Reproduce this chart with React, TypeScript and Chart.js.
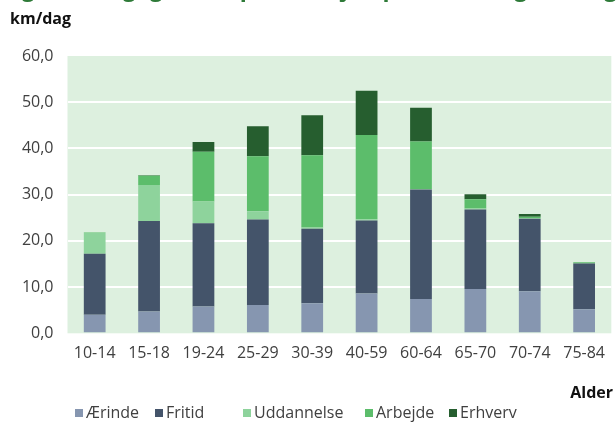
import React, { useEffect, useRef } from 'react';
import { Chart, registerables } from 'chart.js';

Chart.register(...registerables);

// ---- data ----
const categories = ['10-14', '15-18', '19-24', '25-29', '30-39', '40-59', '60-64', '65-70', '70-74', '75-84'];
const seriesLabels = ['Ærinde', 'Fritid', 'Uddannelse', 'Arbejde', 'Erhverv'];
const aerinde = [4.0, 4.7, 5.8, 6.1, 6.5, 8.6, 7.4, 9.6, 9.1, 5.2];
const fritid = [13.2, 19.6, 18.0, 18.5, 16.1, 15.8, 23.7, 17.2, 15.7, 9.9];
const uddannelse = [4.5, 7.8, 4.7, 1.8, 0.3, 0.3, 0.1, 0.2, 0.1, 0.0];
const arbejde = [0.1, 2.0, 10.8, 11.9, 15.6, 18.2, 10.3, 2.0, 0.3, 0.3];
const erhverv = [0.0, 0.1, 2.1, 6.5, 8.7, 9.6, 7.3, 1.1, 0.6, 0.0];
const yMin = 0;
const yMax = 60;
const yStep = 10;
const titleText = 'Figur 9, Dagligt transportarbejde på formål og aldersgrupper';
const yUnitText = 'km/dag';
const xTitleText = 'Alder';

// ---- styles ----
const FONT = '"Open Sans", sans-serif';
const colors = ['#8696B0', '#44546A', '#8ED39C', '#5CBD6B', '#265E2F'];
const plotBg = '#DDF0DF';
const textColor = '#404040';
const legendX = [75, 155, 243, 365, 449];

const decor = {
  id: 'decor',
  beforeDraw(chart: any) {
    const { ctx, chartArea: a } = chart;
    ctx.save();
    ctx.fillStyle = plotBg;
    ctx.fillRect(a.left, a.top, a.right - a.left, a.bottom - a.top);
    ctx.restore();
  },
  afterDraw(chart: any) {
    const ctx = chart.ctx;
    ctx.save();
    // cut-off title at the very top (only descenders visible)
    ctx.font = `bold 23px ${FONT}`;
    ctx.fillStyle = '#2E7A38';
    ctx.textAlign = 'left';
    ctx.textBaseline = 'alphabetic';
    ctx.fillText(titleText, 2, -4);
    // unit label
    ctx.font = `bold 16px ${FONT}`;
    ctx.fillStyle = '#111111';
    ctx.fillText(yUnitText, 10, 24);
    // x axis title
    ctx.textAlign = 'right';
    ctx.fillText(xTitleText, 613, 398);
    // legend
    ctx.font = `16px ${FONT}`;
    ctx.textAlign = 'left';
    ctx.textBaseline = 'middle';
    const y = 413;
    chart.data.datasets.forEach((ds: any, i: number) => {
      const x = legendX[i];
      ctx.fillStyle = ds.backgroundColor;
      ctx.fillRect(x, y - 4, 8, 8);
      ctx.fillStyle = textColor;
      ctx.fillText(ds.label, x + 11, y);
    });
    ctx.restore();
  },
};

export default function App() {
  const ref = useRef<HTMLCanvasElement | null>(null);

  useEffect(() => {
    if (!ref.current) return;
    const series = [aerinde, fritid, uddannelse, arbejde, erhverv];
    const chart = new Chart(ref.current, {
      type: 'bar',
      data: {
        labels: categories,
        datasets: series.map((d, i) => ({
          label: seriesLabels[i],
          data: d,
          backgroundColor: colors[i],
          borderWidth: 0,
          barPercentage: 0.4,
          categoryPercentage: 1.0,
        })),
      },
      options: {
        responsive: false,
        animation: false,
        devicePixelRatio: 1,
        layout: { padding: { top: 56, right: 0, bottom: 0, left: 0 } },
        plugins: {
          legend: { display: false },
          title: { display: false },
          tooltip: { enabled: false },
        },
        scales: {
          x: {
            stacked: true,
            grid: { display: false, drawTicks: false },
            border: { display: false },
            ticks: {
              color: textColor,
              font: { family: FONT, size: 16 },
              padding: 11,
              maxRotation: 0,
              autoSkip: false,
            },
            afterFit: (s: any) => {
              s.height = 89.7;
            },
          },
          y: {
            stacked: true,
            min: yMin,
            max: yMax,
            grid: {
              drawTicks: false,
              lineWidth: 2,
              color: (c: any) =>
                c.tick && c.tick.value > yMin && c.tick.value < yMax ? '#FFFFFF' : 'rgba(0,0,0,0)',
            },
            border: { display: false },
            ticks: {
              stepSize: yStep,
              color: textColor,
              font: { family: FONT, size: 16 },
              padding: 14,
              callback: (v: any) => Number(v).toFixed(1).replace('.', ','),
            },
            afterFit: (s: any) => {
              s.width = 67.5;
            },
          },
        },
      },
      plugins: [decor],
    });
    return () => chart.destroy();
  }, []);

  return (
    <div style={{ position: 'fixed', left: 0, top: 0, width: 616, height: 423, background: '#fff' }}>
      <canvas ref={ref} width={616} height={423} style={{ width: 616, height: 423, display: 'block' }} />
    </div>
  );
}
